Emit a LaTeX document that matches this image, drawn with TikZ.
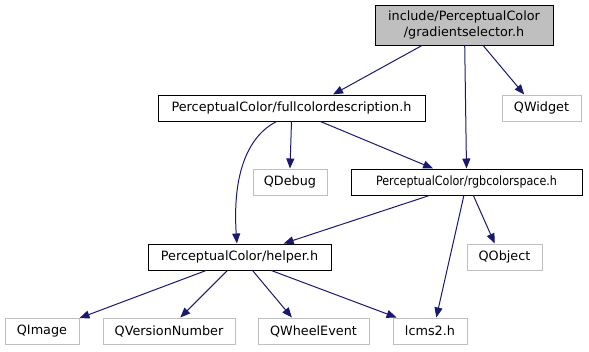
\documentclass[tikz,border=0pt]{standalone}
\usepackage{fontspec}
\setmainfont{DejaVu Sans}
\usetikzlibrary{arrows.meta}
\definecolor{edgeblue}{HTML}{191970}
\definecolor{greyseventyfive}{HTML}{BFBFBF}
\begin{document}
\begin{tikzpicture}[x=1pt,y=-1pt,
  font=\fontsize{12.8}{16}\selectfont,
  box/.style={draw=black,line width=1pt,inner sep=0pt,minimum height=26pt},
  extbox/.style={draw=greyseventyfive,line width=1pt,inner sep=0pt,minimum height=26pt},
  dep/.style={draw=edgeblue,line width=1pt,-{Triangle[length=10pt,width=8pt]}}]
\useasboundingbox (0,0) rectangle (589,351);

\node[box,fill=greyseventyfive,minimum width=178pt,minimum height=40pt,align=center] (gradsel) at (464,25) {include/PerceptualColor\\/gradientselector.h};
\node[box,minimum width=267pt] (fulldesc) at (291.5,108) {PerceptualColor/fullcolordescription.h};
\node[extbox,minimum width=79pt] (qwidget) at (541.5,108) {QWidget};
\node[extbox,minimum width=74pt] (qdebug) at (290,182) {QDebug};
\node[box,minimum width=231pt] (rgbspace) at (466.5,182) {\scalebox{0.87}[1]{PerceptualColor/rgbcolorspace.h}};
\node[box,minimum width=183pt] (helper) at (239.5,257) {PerceptualColor/helper.h};
\node[extbox,minimum width=75pt] (qobject) at (504.5,257) {QObject};
\node[extbox,minimum width=74pt] (qimage) at (42,331) {QImage};
\node[extbox,minimum width=132pt] (qversion) at (169,331) {QVersionNumber};
\node[extbox,minimum width=111pt] (qwheel) at (313.5,331) {QWheelEvent};
\node[extbox,minimum width=74pt] (lcms) at (430,331) {lcms2.h};

\draw[dep] (gradsel.206) -- (fulldesc.18);
\draw[dep] (gradsel.272) -- (rgbspace.90);
\draw[dep] (gradsel.313) -- (qwidget.142);
\draw[dep] (fulldesc.270) -- (qdebug.90);
\draw[dep] (fulldesc.335) -- (rgbspace.158);
\draw[dep] (fulldesc.222) .. controls (250,135) and (232,170) .. (helper.101);
\draw[dep] (rgbspace.200) -- (helper.17);
\draw[dep] (rgbspace.297) -- (qobject.126);
\draw[dep] (rgbspace.259) -- (lcms.65);
\draw[dep] (helper.202) -- (qimage.19);
\draw[dep] (helper.228) -- (qversion.50);
\draw[dep] (helper.314) -- (qwheel.148);
\draw[dep] (helper.337) -- (lcms.158);
\end{tikzpicture}
\end{document}
